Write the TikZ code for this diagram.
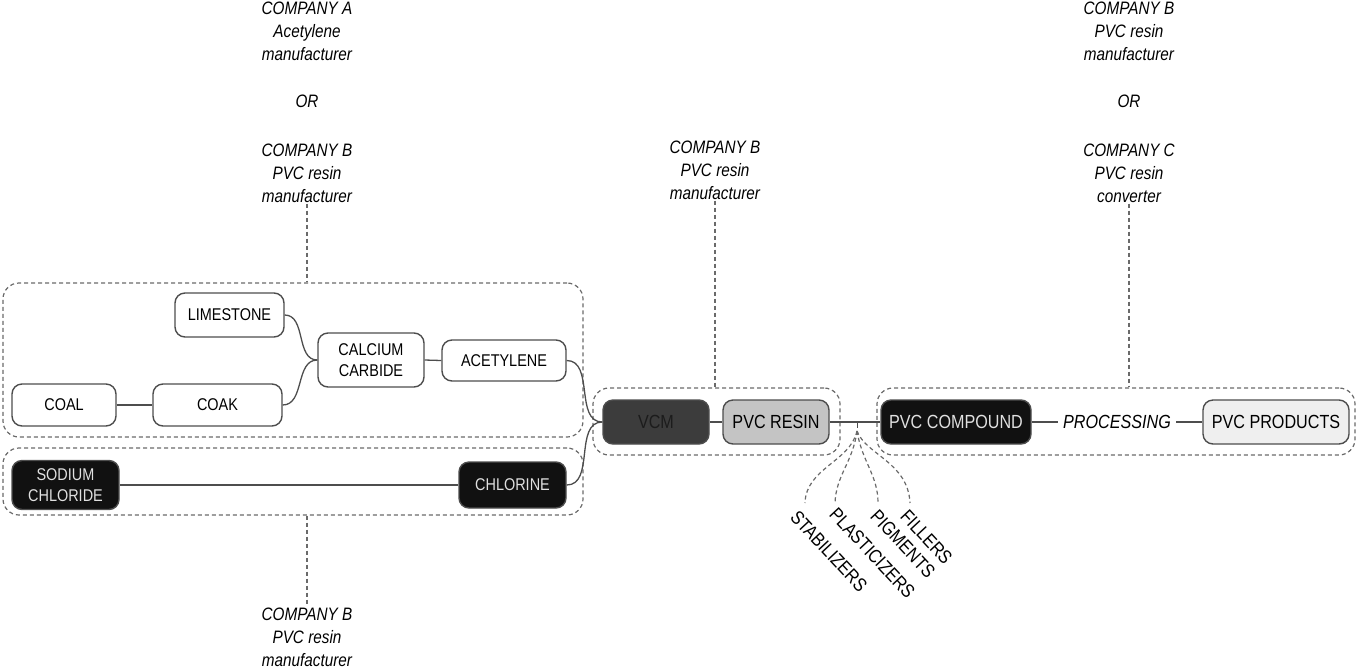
\documentclass[tikz,border=0pt]{standalone}
\usepackage{fontspec}
\setmainfont{Liberation Sans}[FakeStretch=0.85]
\definecolor{bord}{HTML}{4D4D4D}
\definecolor{dgray}{HTML}{6A6A6A}
\definecolor{nblack}{HTML}{111111}
\definecolor{vcmfill}{HTML}{3C3C3C}
\definecolor{vcmtext}{HTML}{1C1C1C}
\definecolor{resinfill}{HTML}{C4C4C4}
\definecolor{prodfill}{HTML}{EFEFEF}
\tikzset{
  nbox/.style={draw=bord, line width=1.4pt, rounded corners=10pt, align=center, inner sep=1pt, font=\fontsize{17}{21}\selectfont},
  rbox/.style={nbox, font=\fontsize{19}{22}\selectfont},
  blackbox/.style={fill=nblack, text=white!88!black},
  grpbox/.style={draw=dgray, line width=1.2pt, dash pattern=on 4pt off 3pt, rounded corners=16pt, inner sep=0pt},
  lbl/.style={align=center, font=\fontsize{18}{23}\selectfont\itshape, inner sep=1pt},
  conn/.style={draw=bord, line width=1.3pt},
  dconn/.style={draw=dgray, line width=1.2pt, dash pattern=on 4pt off 3pt},
  addlbl/.style={rotate=-47, anchor=west, inner sep=0pt, font=\fontsize{19}{22}\selectfont},
}
\begin{document}
\begin{tikzpicture}[x=1pt,y=-1pt]
\useasboundingbox (0,0) rectangle (1359,670);

% group boxes
\node[grpbox, minimum width=580pt, minimum height=154pt] (g1) at (293,360) {};
\node[grpbox, minimum width=580pt, minimum height=67pt] (g2) at (293,481.5) {};
\node[grpbox, minimum width=247pt, minimum height=67pt] (g3) at (716.5,421.5) {};
\node[grpbox, minimum width=478pt, minimum height=67pt] (g4) at (1116,421.5) {};

% nodes
\node[nbox, minimum width=109pt, minimum height=44pt] (lime) at (229.5,315) {LIMESTONE};
\node[nbox, minimum width=106pt, minimum height=54pt] (cc) at (371,360) {CALCIUM\\CARBIDE};
\node[nbox, minimum width=124pt, minimum height=41pt] (acet) at (504,360.5) {ACETYLENE};
\node[nbox, minimum width=104pt, minimum height=42pt] (coal) at (64,405) {COAL};
\node[nbox, minimum width=129pt, minimum height=42pt] (coak) at (217.5,405) {COAK};
\node[nbox, blackbox, minimum width=107pt, minimum height=49pt] (nacl) at (65.5,485) {SODIUM\\CHLORIDE};
\node[nbox, blackbox, minimum width=107pt, minimum height=46pt] (cl) at (512.5,485) {CHLORINE};
\node[rbox, fill=vcmfill, text=vcmtext, minimum width=106pt, minimum height=44pt] (vcm) at (656,422) {VCM};
\node[rbox, fill=resinfill, minimum width=106pt, minimum height=44pt] (resin) at (776,422) {PVC RESIN};
\node[rbox, blackbox, minimum width=150pt, minimum height=44pt] (comp) at (956,422) {PVC COMPOUND};
\node[lbl, font=\fontsize{19}{22}\selectfont\itshape, inner sep=5pt] (proc) at (1117,422) {PROCESSING};
\node[rbox, fill=prodfill, minimum width=146pt, minimum height=44pt] (prod) at (1276,422) {PVC PRODUCTS};

% company labels
\node[lbl] (tl1) at (307,31) {COMPANY A\\Acetylene\\manufacturer};
\node[lbl] (tl2) at (307,101) {OR};
\node[lbl] (tl3) at (307,173) {COMPANY B\\PVC resin\\manufacturer};
\node[lbl] (bl) at (307,637) {COMPANY B\\PVC resin\\manufacturer};
\node[lbl] (mid) at (715,170) {COMPANY B\\PVC resin\\manufacturer};
\node[lbl] (tr1) at (1129,31) {COMPANY B\\PVC resin\\manufacturer};
\node[lbl] (tr2) at (1129,101) {OR};
\node[lbl] (tr3) at (1129,173) {COMPANY C\\PVC resin\\converter};

% dashed leader lines
\draw[dconn] (tl3.south) -- (tl3.south |- g1.north);
\draw[dconn] (g2.south -| bl.north) -- (bl.north);
\draw[dconn] (mid.south) -- (mid.south |- g3.north);
\draw[dconn] (tr3.south) -- (tr3.south |- g4.north);

% solid connectors
\draw[conn] (coal.east) -- (coak.west);
\draw[conn] (lime.east) to[out=0,in=180] (cc.west);
\draw[conn] (coak.east) to[out=0,in=180] (cc.west);
\draw[conn] (cc.east) -- (acet.west);
\draw[conn] (nacl.east) -- (cl.west);
\draw[conn] (acet.east) to[out=0,in=180] (vcm.west);
\draw[conn] (cl.east) to[out=0,in=180] (vcm.west);
\draw[conn] (vcm.east) -- (resin.west);
\draw[conn] (resin.east) -- (comp.west);
\draw[conn] (comp.east) -- (proc.west);
\draw[conn] (proc.east) -- (prod.west);

% additives
\coordinate (j) at (857,422);
\coordinate (jb) at (857,431);
\draw[conn, line width=1pt] (j) -- (857,428);
\node[addlbl] (stab) at (794,514) {STABILIZERS};
\node[addlbl] (plas) at (833,511) {PLASTICIZERS};
\node[addlbl] (pig) at (874,513) {PIGMENTS};
\node[addlbl] (fil) at (904,513) {FILLERS};
\coordinate (e1) at (805,503);
\coordinate (e2) at (835,503);
\coordinate (e3) at (878,503);
\coordinate (e4) at (910,503);
\draw[dconn] (jb) .. controls (850,462) and (806,468) .. (e1);
\draw[dconn] (jb) .. controls (853,462) and (836,475) .. (e2);
\draw[dconn] (jb) .. controls (862,462) and (878,475) .. (e3);
\draw[dconn] (jb) .. controls (866,455) and (908,462) .. (e4);
\end{tikzpicture}
\end{document}
